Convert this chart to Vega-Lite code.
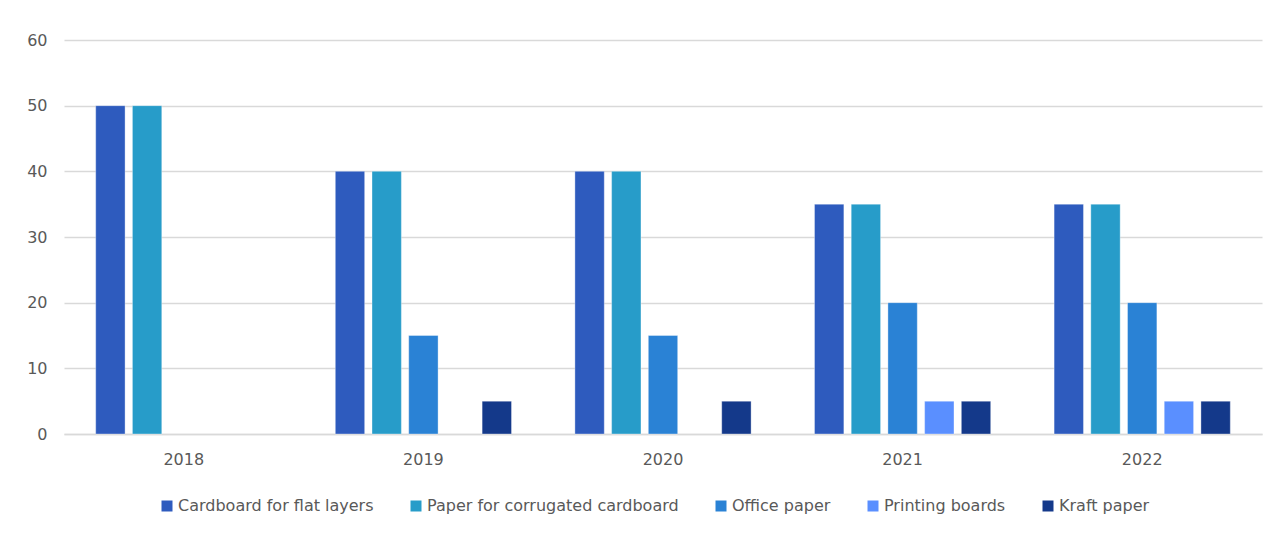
{
  "$schema": "https://vega.github.io/schema/vega-lite/v6.json",
  "width": 1198,
  "height": 394,
  "autosize": {"type": "none"},
  "padding": {"left": 64, "top": 40, "right": 19, "bottom": 101},
  "background": "white",
  "data": {
    "values": [
      {"year": "2018", "type": "Cardboard for flat layers", "value": 50},
      {"year": "2018", "type": "Paper for corrugated cardboard", "value": 50},
      {"year": "2019", "type": "Cardboard for flat layers", "value": 40},
      {"year": "2019", "type": "Paper for corrugated cardboard", "value": 40},
      {"year": "2019", "type": "Office paper", "value": 15},
      {"year": "2019", "type": "Kraft paper", "value": 5},
      {"year": "2020", "type": "Cardboard for flat layers", "value": 40},
      {"year": "2020", "type": "Paper for corrugated cardboard", "value": 40},
      {"year": "2020", "type": "Office paper", "value": 15},
      {"year": "2020", "type": "Kraft paper", "value": 5},
      {"year": "2021", "type": "Cardboard for flat layers", "value": 35},
      {"year": "2021", "type": "Paper for corrugated cardboard", "value": 35},
      {"year": "2021", "type": "Office paper", "value": 20},
      {"year": "2021", "type": "Printing boards", "value": 5},
      {"year": "2021", "type": "Kraft paper", "value": 5},
      {"year": "2022", "type": "Cardboard for flat layers", "value": 35},
      {"year": "2022", "type": "Paper for corrugated cardboard", "value": 35},
      {"year": "2022", "type": "Office paper", "value": 20},
      {"year": "2022", "type": "Printing boards", "value": 5},
      {"year": "2022", "type": "Kraft paper", "value": 5}
    ]
  },
  "mark": {"type": "bar", "stroke": "#ffffff", "strokeOpacity": 0.35, "strokeWidth": 1},
  "encoding": {
    "x": {
      "field": "year", "type": "nominal", "title": null,
      "scale": {"paddingInner": 0.234, "paddingOuter": 0.117},
      "axis": {"labelAngle": 0, "labelFont": "DejaVu Sans", "labelFontSize": 16, "labelColor": "#595959", "labelPadding": 17, "ticks": false, "domainColor": "#d9d9d9", "domainWidth": 1.5}
    },
    "xOffset": {
      "field": "type", "type": "nominal",
      "sort": ["Cardboard for flat layers", "Paper for corrugated cardboard", "Office paper", "Printing boards", "Kraft paper"],
      "scale": {"paddingInner": 0.2, "paddingOuter": 0.1}
    },
    "y": {
      "field": "value", "type": "quantitative", "title": null,
      "scale": {"domain": [0, 60]},
      "axis": {"values": [0, 10, 20, 30, 40, 50, 60], "labelFont": "DejaVu Sans", "labelFontSize": 16, "labelColor": "#595959", "labelPadding": 17, "ticks": false, "domain": false, "gridColor": "#d9d9d9", "gridWidth": 1.5}
    },
    "color": {
      "field": "type", "type": "nominal", "title": null,
      "sort": ["Cardboard for flat layers", "Paper for corrugated cardboard", "Office paper", "Printing boards", "Kraft paper"],
      "scale": {
        "domain": ["Cardboard for flat layers", "Paper for corrugated cardboard", "Office paper", "Printing boards", "Kraft paper"],
        "range": ["#2E5BBE", "#279CC9", "#2A82D5", "#5A8FFF", "#14398A"]
      },
      "legend": {"orient": "none", "legendX": 95, "legendY": 458, "direction": "horizontal", "symbolType": "square", "symbolSize": 121, "symbolStrokeWidth": 0, "labelFont": "DejaVu Sans", "labelFontSize": 16, "labelColor": "#595959", "labelOffset": 3, "labelLimit": 400, "columnPadding": 34}
    }
  },
  "config": {"view": {"stroke": null}}
}
